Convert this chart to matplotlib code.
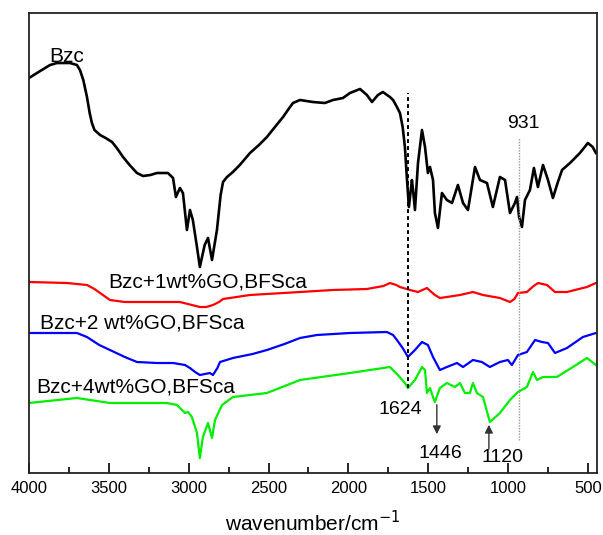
import matplotlib
matplotlib.use("Agg")
import matplotlib.pyplot as plt
from matplotlib.ticker import MultipleLocator

plt.rcParams['font.family'] = ['Liberation Sans', 'DejaVu Sans']

# Black: Bzc
bzc_wn = [4000, 3930, 3868, 3825, 3743, 3700, 3681, 3660, 3637, 3620, 3606, 3590, 3555, 3520, 3480, 3450,
          3411, 3370, 3324, 3286, 3240, 3199, 3130, 3098, 3080,
          3055, 3036, 3011, 2992, 2974, 2950, 2930, 2900, 2879, 2854, 2823, 2800, 2785, 2760, 2723, 2680,
          2616, 2560, 2510, 2460, 2409, 2370, 2347, 2303,
          2222, 2147, 2096, 2034, 1990, 1927, 1884, 1852, 1815, 1784, 1740, 1720, 1696, 1677, 1660, 1646,
          1634, 1621,
          1602, 1595, 1583, 1564, 1539, 1520, 1502, 1489, 1470, 1458, 1439, 1414, 1383, 1351, 1314, 1282,
          1251, 1207, 1176, 1132, 1095, 1051, 1019, 988, 957, 944, 931, 913, 894, 863, 838, 813, 781, 750,
          719, 690, 662, 612, 550, 500, 470, 450]
bzc_t = [457, 464, 470, 472, 472, 470, 465, 455, 438, 422, 412, 405, 400, 397, 393, 387,
         378, 370, 362, 359, 360, 362, 362, 357, 338,
         347, 342, 305, 325, 315, 290, 268, 290, 297, 275, 305, 340, 353, 358, 363, 370,
         382, 390, 398, 408, 418, 427, 432, 435,
         433, 432, 435, 437, 442, 446, 440, 433, 440, 443, 438, 435, 428, 422, 408, 388,
         358, 328,
         355, 345, 325, 372, 405, 388, 362, 368, 355, 322, 307, 342, 335, 332, 350, 332,
         325, 368, 355, 352, 328, 358, 355, 322, 332, 338, 318, 308, 335, 345, 367, 348, 370, 355,
         337, 352, 365, 372, 382, 392, 388, 382]

# Red: Bzc+1wt%GO,BFSca
go1_wn = [4000, 3762, 3637, 3590, 3555, 3493, 3400, 3305, 3055, 2980, 2930, 2890, 2848, 2810, 2785, 2700,
          2616, 2303, 2096, 1884, 1780, 1740, 1700, 1677, 1614, 1564, 1508, 1480, 1458, 1427, 1383, 1301,
          1220, 1157, 1051, 988, 960, 938, 882, 840, 812, 756, 706, 631, 506, 450]
go1_t = [253, 252, 250, 246, 242, 235, 233, 233, 233, 230, 228, 228, 230, 233, 236, 238,
         240, 243, 245, 246, 249, 252, 250, 248, 245, 243, 247, 243, 240, 237, 238, 240,
         243, 240, 237, 233, 236, 242, 243, 249, 252, 250, 243, 243, 248, 252]

# Blue: Bzc+2 wt%GO,BFSca
go2_wn = [4000, 3700, 3637, 3560, 3493, 3400, 3324, 3200, 3098, 3023, 2992, 2960, 2930, 2867, 2848, 2820,
          2804, 2723, 2600, 2510, 2400, 2303, 2197,
          1990, 1759, 1720, 1696, 1660, 1627, 1583, 1539, 1502, 1470, 1427, 1383, 1320, 1282, 1220, 1164,
          1114, 1051, 1001, 976, 938, 882, 831, 788, 750, 706, 631, 531, 450]
go2_t = [202, 202, 198, 190, 185, 178, 173, 172, 172, 170, 167, 163, 160, 162, 160, 167,
         173, 177, 181, 185, 191, 197, 200,
         202, 203, 200, 195, 187, 178, 185, 193, 190, 178, 165, 168, 172, 168, 175, 173,
         168, 173, 175, 170, 180, 183, 195, 193, 192, 182, 187, 198, 202]

# Green: Bzc+4wt%GO,BFSca
go4_wn = [4000, 3700, 3493, 3136, 3073, 3023, 3004, 2980, 2948, 2930, 2911, 2879, 2854, 2835, 2791, 2723,
          2510, 2303, 1990, 1740, 1690, 1646, 1627, 1583, 1539, 1520, 1508, 1489, 1470, 1458, 1427, 1383,
          1333, 1301, 1270, 1239, 1220, 1195, 1157, 1114, 1051, 988, 938, 882, 844, 819, 781, 694, 594,
          506, 450]
go4_t = [132, 137, 132, 132, 130, 122, 123, 118, 102, 77, 98, 112, 97, 115, 130, 138,
         142, 155, 162, 168, 160, 152, 147, 155, 168, 165, 142, 147, 138, 133, 147, 152,
         148, 152, 142, 142, 152, 142, 138, 113, 122, 135, 143, 148, 163, 155, 158, 158, 168,
         177, 170]

series_labels = ["Bzc", "Bzc+1wt%GO,BFSca", "Bzc+2 wt%GO,BFSca", "Bzc+4wt%GO,BFSca"]
peak_labels = ["1624", "1446", "1120", "931"]
x_ticks = [4000, 3500, 3000, 2500, 2000, 1500, 1000, 500]

fig = plt.figure(figsize=(6.03, 5.35), dpi=100)
ax = fig.add_axes([29/603, 62/535, 568/603, 460/535])

ax.plot(bzc_wn, bzc_t, color='black', lw=1.9, solid_joinstyle='round')
ax.plot(go1_wn, go1_t, color='#ff0000', lw=1.6, solid_joinstyle='round')
ax.plot(go2_wn, go2_t, color='#0000ff', lw=1.6, solid_joinstyle='round')
ax.plot(go4_wn, go4_t, color='#00ee00', lw=1.6, solid_joinstyle='round')

ax.set_xlim(4000, 443)
ax.set_ylim(62, 522)
ax.set_xticks(x_ticks)
ax.xaxis.set_minor_locator(MultipleLocator(250))
ax.tick_params(axis='x', which='major', direction='in', length=7, width=1.2, labelsize=12, pad=6)
ax.tick_params(axis='x', which='minor', direction='in', length=4, width=1.2)
ax.set_yticks([])
for s in ax.spines.values():
    s.set_linewidth(1.3)
    s.set_color('#222222')

ax.set_xlabel("wavenumber/cm$^{-1}$", fontsize=15, labelpad=10)

# reference lines
ax.plot([1624, 1624], [147, 442], color='black', lw=1.4, ls=(0, (2, 1.6)))
ax.plot([931, 931], [95, 397], color='#999999', lw=1.0, ls=(0, (1, 1)))

# text labels
fs = 15
ax.text(3875, 478, series_labels[0], fontsize=fs, ha='left', va='center')
ax.text(3505, 253, series_labels[1], fontsize=fs, ha='left', va='center')
ax.text(3931, 212, series_labels[2], fontsize=fs, ha='left', va='center')
ax.text(3956, 148, series_labels[3], fontsize=fs, ha='left', va='center')
ax.text(907, 412, peak_labels[3], fontsize=14, ha='center', va='center')
ax.text(1677, 125, peak_labels[0], fontsize=14, ha='center', va='center')
ax.text(1426, 82, peak_labels[1], fontsize=14, ha='center', va='center')
ax.text(1032, 77, peak_labels[2], fontsize=14, ha='center', va='center')

ax.annotate("", xy=(1446, 98), xytext=(1446, 133),
            arrowprops=dict(arrowstyle='-|>', color='#333333', lw=1.0, mutation_scale=12))
ax.annotate("", xy=(1120, 113), xytext=(1120, 83),
            arrowprops=dict(arrowstyle='-|>', color='#333333', lw=1.0, mutation_scale=12))

fig.savefig("out.png", dpi=100)
